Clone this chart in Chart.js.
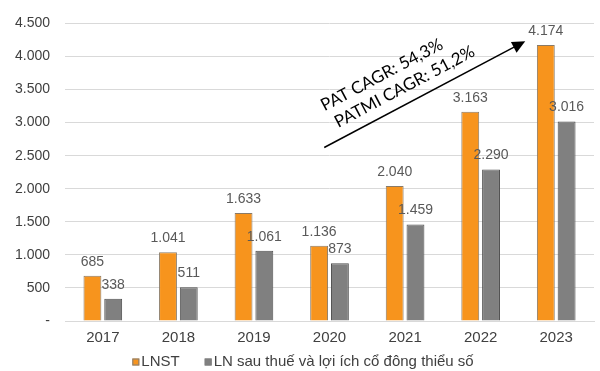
<!DOCTYPE html>
<html>
<head>
<meta charset="utf-8">
<script src="https://cdn.jsdelivr.net/npm/chart.js@4.4.0/dist/chart.umd.min.js"></script>
<style>
  html, body { margin: 0; padding: 0; background: #fff; }
  #wrap { width: 600px; height: 371px; position: relative; }
</style>
</head>
<body>
<div id="wrap"><canvas id="c"></canvas></div>
<script>
// Lợi nhuận theo năm (tỷ đồng)
const years = ['2017', '2018', '2019', '2020', '2021', '2022', '2023'];
const lnst = [685, 1041, 1633, 1136, 2040, 3163, 4174];
const lnCoDong = [338, 511, 1061, 873, 1459, 2290, 3016];
const seriesNames = ['LNST', 'LN sau thuế và lợi ích cổ đông thiểu số'];
const cagrLines = ['PAT CAGR: 54,3%', 'PATMI CAGR: 51,2%'];

const fmt = v => v === 0 ? '-' : v.toString().replace(/\B(?=(\d{3})+(?!\d))/g, '.');
const FONT = '"Liberation Sans", Arial, sans-serif';

// Value labels above each bar
const valueLabels = {
  id: 'valueLabels',
  afterDatasetsDraw(chart) {
    const ctx = chart.ctx;
    ctx.save();
    ctx.font = '14px ' + FONT;
    ctx.fillStyle = '#595959';
    ctx.textAlign = 'center';
    ctx.textBaseline = 'bottom';
    chart.data.datasets.forEach((ds, i) => {
      chart.getDatasetMeta(i).data.forEach((bar, j) => {
        ctx.fillText(fmt(ds.data[j]), bar.x, bar.y - 7);
      });
    });
    ctx.restore();
  }
};

// Compact legend row beneath the axis labels
const bottomLegend = {
  id: 'bottomLegend',
  afterDraw(chart) {
    const ctx = chart.ctx;
    const ds = chart.data.datasets;
    ctx.save();
    ctx.font = '15px ' + FONT;
    ctx.textBaseline = 'middle';
    ctx.textAlign = 'left';
    const box = 7, gapText = 2, gapItem = 25;
    const widths = ds.map(d => box + gapText + ctx.measureText(d.label).width);
    const total = widths.reduce((s, w) => s + w, 0) + gapItem * (ds.length - 1);
    let x = chart.width / 2 - total / 2 + 3;
    const y = chart.height - 9;
    ds.forEach((d, i) => {
      ctx.fillStyle = d.backgroundColor;
      ctx.fillRect(x, y - box / 2, box, box);
      ctx.strokeStyle = '#7F7F7F';
      ctx.lineWidth = 1;
      ctx.strokeRect(x + 0.5, y - box / 2 + 0.5, box - 1, box - 1);
      ctx.fillStyle = '#404040';
      ctx.fillText(d.label, x + box + gapText, y);
      x += widths[i] + gapItem;
    });
    ctx.restore();
  }
};

// Growth arrow with rotated CAGR text
const cagrArrow = {
  id: 'cagrArrow',
  afterDraw(chart) {
    const { ctx, chartArea: a } = chart;
    const w = a.right - a.left, h = a.bottom - a.top;
    const x0 = a.left + w * 0.49, y0 = a.top + h * 0.417;
    const x1 = a.left + w * 0.87, y1 = a.top + h * 0.06;
    const ang = Math.atan2(y1 - y0, x1 - x0);
    ctx.save();
    ctx.strokeStyle = '#000';
    ctx.fillStyle = '#000';
    ctx.lineWidth = 1.5;
    ctx.beginPath();
    ctx.moveTo(x0, y0);
    ctx.lineTo(x1 - 10 * Math.cos(ang), y1 - 10 * Math.sin(ang));
    ctx.stroke();
    ctx.translate(x1, y1);
    ctx.rotate(ang);
    ctx.beginPath();
    ctx.moveTo(0, 0);
    ctx.lineTo(-13, -6);
    ctx.lineTo(-13, 6);
    ctx.closePath();
    ctx.fill();
    ctx.restore();

    ctx.save();
    ctx.font = '17px Lato, "Open Sans", sans-serif';
    ctx.fillStyle = '#000';
    ctx.textAlign = 'center';
    ctx.textBaseline = 'middle';
    const centers = [[a.left + w * 0.599, a.top + h * 0.173], [a.left + w * 0.642, a.top + h * 0.213]];
    cagrLines.forEach((t, i) => {
      ctx.save();
      ctx.translate(centers[i][0], centers[i][1]);
      ctx.rotate(ang);
      ctx.fillText(t, 0, 0);
      ctx.restore();
    });
    ctx.restore();
  }
};

new Chart(document.getElementById('c'), {
  type: 'bar',
  data: {
    labels: years,
    datasets: [
      { label: seriesNames[0], data: lnst, backgroundColor: '#F7941D', borderColor: '#8A7A66', borderWidth: 1 },
      { label: seriesNames[1], data: lnCoDong, backgroundColor: '#808080', borderColor: '#4F4F4F', borderWidth: 1 }
    ]
  },
  options: {
    responsive: true,
    maintainAspectRatio: false,
    animation: false,
    devicePixelRatio: 1,
    layout: { padding: { top: 6, right: 6, left: 0, bottom: 24 } },
    datasets: { bar: { categoryPercentage: 0.55, barPercentage: 0.86 } },
    scales: {
      x: {
        grid: { display: false },
        border: { color: '#D9D9D9' },
        ticks: { color: '#404040', font: { size: 15, family: FONT }, padding: 0 }
      },
      y: {
        min: 0, max: 4500,
        grid: { color: '#D9D9D9', drawTicks: false },
        border: { display: false },
        ticks: {
          stepSize: 500,
          padding: 15,
          color: '#404040',
          font: { size: 14, family: FONT },
          callback: v => fmt(v)
        }
      }
    },
    plugins: {
      legend: { display: false },
      tooltip: { enabled: false }
    }
  },
  plugins: [valueLabels, cagrArrow, bottomLegend]
});
</script>
</body>
</html>
